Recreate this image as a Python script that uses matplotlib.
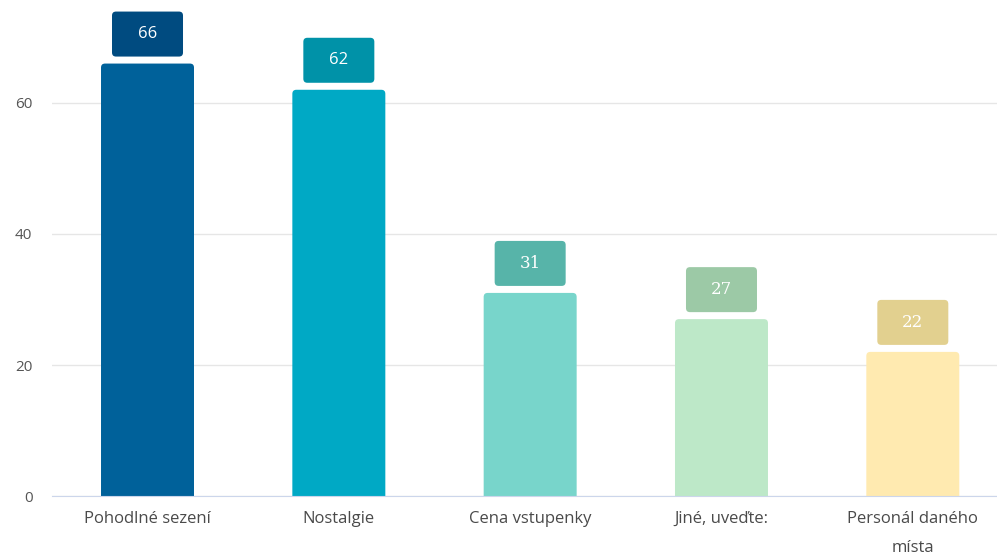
import matplotlib.pyplot as plt
from matplotlib.patches import FancyBboxPatch

categories = ['Pohodlné sezení', 'Nostalgie', 'Cena vstupenky', 'Jiné, uveďte:', 'Personál daného\nmísta']
values = [66, 62, 31, 27, 22]
bar_colors = ['#00619A', '#00A9C5', '#78D5CB', '#BDE8C8', '#FFEAB0']
box_colors = ['#004B80', '#0092A8', '#57B4A9', '#9CC9A6', '#E2D08F']
yticks = [0, 20, 40, 60]

plt.rcParams['font.family'] = ['Open Sans', 'DejaVu Sans']

fig = plt.figure(figsize=(9.97, 5.58), dpi=100)
ax = fig.add_axes([0.052, 0.111, 0.948, 0.889])
ax.set_xlim(-0.5, 4.44)
ax.set_ylim(0, 75.7)

# px -> data conversion for rounded corners
px_x = 4.94 / (0.948 * 997)
px_y = 75.7 / (0.889 * 558)
aspect = px_y / px_x

bars = ax.bar(range(len(values)), values, width=0.486, color=bar_colors, zorder=2)
for b, c in zip(bars, bar_colors):
    b.set_visible(False)
    x, w, h = b.get_x(), b.get_width(), b.get_height()
    r = 4 * px_x
    p = FancyBboxPatch((x, -10), w, h + 10, boxstyle='round,pad=0,rounding_size=%f' % r,
                       mutation_aspect=aspect, fc=c, ec='none', zorder=2)
    ax.add_patch(p)

bw = 71 * px_x
bh = 45 * px_y
gap = 7 * px_y
for i, (v, c) in enumerate(zip(values, box_colors)):
    p = FancyBboxPatch((i - bw / 2, v + gap), bw, bh,
                       boxstyle='round,pad=0,rounding_size=%f' % (4 * px_x),
                       mutation_aspect=aspect, fc=c, ec='none', zorder=3)
    ax.add_patch(p)
    fam = ['Open Sans', 'DejaVu Sans'] if i < 2 else ['DejaVu Serif']
    ax.text(i, v + gap + bh / 2, str(v), ha='center', va='center', color='white',
            fontsize=12, family=fam, zorder=4)

ax.set_yticks(yticks)
ax.set_xticks(range(len(categories)))
ax.set_xticklabels(categories, linespacing=2.05, va='top')
ax.tick_params(axis='x', length=0, pad=11, labelsize=12, labelcolor='#4A4A4A')
ax.tick_params(axis='y', length=0, pad=14, labelsize=11, labelcolor='#555555')
ax.grid(axis='y', color='#E6E6E6', linewidth=1, zorder=0)
ax.set_axisbelow(True)
for s in ['top', 'right', 'left']:
    ax.spines[s].set_visible(False)
ax.spines['bottom'].set_color('#CCD6EB')
ax.spines['bottom'].set_zorder(5)

fig.savefig('out.png', dpi=100)
